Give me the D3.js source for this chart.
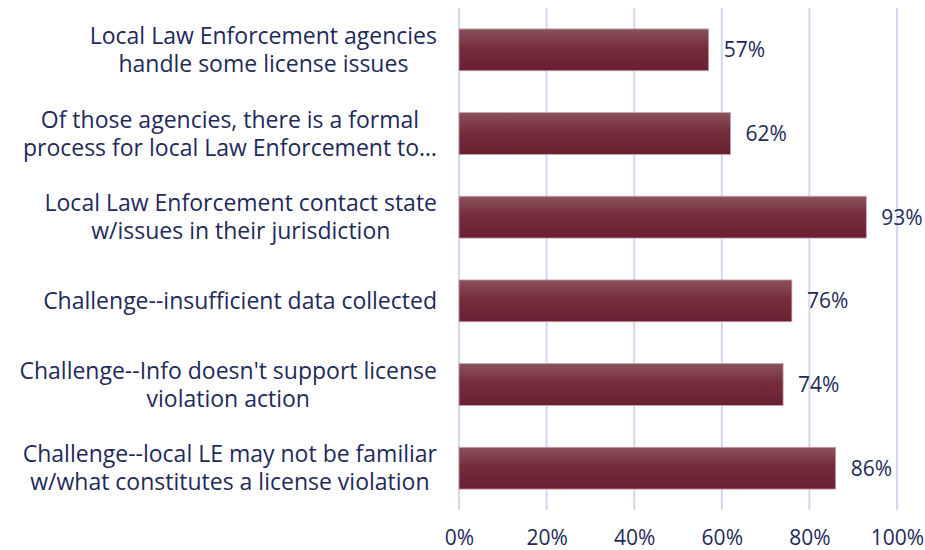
<!DOCTYPE html>
<html>
<head>
<meta charset="utf-8">
<script src="https://cdnjs.cloudflare.com/ajax/libs/d3/7.8.5/d3.min.js"></script>
<style>
  body { margin: 0; background: #fff; }
  svg text { font-family: "Open Sans", sans-serif; fill: #1f2a5a; }
</style>
</head>
<body>
<svg width="925" height="550"></svg>
<script>
var categories = [
  ["Local Law Enforcement agencies", "handle some license issues"],
  ["Of those agencies, there is a formal", "process for local Law Enforcement to\u2026"],
  ["Local Law Enforcement contact state", "w/issues in their jurisdiction"],
  ["Challenge--insufficient data collected"],
  ["Challenge--Info doesn't support license", "violation action"],
  ["Challenge--local LE may not be familiar", "w/what constitutes a license violation"]
];
var values = [57, 62, 93, 76, 74, 86];
var ticks = [0, 20, 40, 60, 80, 100];

var svg = d3.select("svg"),
    margin = {top: 8, right: 28, bottom: 40, left: 459},
    width = +svg.attr("width") - margin.left - margin.right,
    height = +svg.attr("height") - margin.top - margin.bottom;

var g = svg.append("g")
    .attr("transform", "translate(" + margin.left + "," + margin.top + ")");

var xScale = d3.scaleLinear().domain([0, 100]).range([0, width]);
var yScale = d3.scaleBand()
    .domain(d3.range(categories.length))
    .range([0, height])
    .paddingInner(0.5)
    .paddingOuter(0.25);

// bar gradient
var grad = svg.append("defs").append("linearGradient")
    .attr("id", "barGrad")
    .attr("x1", 0).attr("y1", 0).attr("x2", 0).attr("y2", 1);
grad.append("stop").attr("offset", "0%").attr("stop-color", "#8b535d");
grad.append("stop").attr("offset", "45%").attr("stop-color", "#772c3b");
grad.append("stop").attr("offset", "100%").attr("stop-color", "#682132");

// gridlines
g.selectAll(".grid")
    .data(ticks)
    .enter().append("line")
    .attr("class", "grid")
    .attr("x1", function(d) { return xScale(d); })
    .attr("x2", function(d) { return xScale(d); })
    .attr("y1", 0)
    .attr("y2", height)
    .attr("stroke", "#d3d7ef")
    .attr("stroke-width", 2);

// x axis labels
g.append("g")
    .attr("transform", "translate(0," + height + ")")
    .call(d3.axisBottom(xScale).tickValues(ticks).tickSize(0).tickPadding(20)
      .tickFormat(function(d) { return d + "%"; }))
    .call(function(ax) {
      ax.select(".domain").remove();
      ax.selectAll("text").style("font-size", "21px").attr("fill", "#1f2a5a");
    });

// bars
g.selectAll(".bar")
    .data(values)
    .enter().append("rect")
    .attr("class", "bar")
    .attr("x", 0)
    .attr("y", function(d, i) { return yScale(i); })
    .attr("width", function(d) { return xScale(d); })
    .attr("height", yScale.bandwidth())
    .attr("fill", "url(#barGrad)")
    .attr("stroke", "#c9a3aa")
    .attr("stroke-width", 0.8);

// value labels
g.selectAll(".val")
    .data(values)
    .enter().append("text")
    .attr("class", "val")
    .attr("x", function(d) { return xScale(d) + 15; })
    .attr("y", function(d, i) { return yScale(i) + yScale.bandwidth() / 2; })
    .attr("dy", "0.35em")
    .style("font-size", "21px")
    .text(function(d) { return d + "%"; });

// category labels: block right aligned, lines centred
var lineH = 28;
var right = -22;
categories.forEach(function(lines, i) {
  var cy = yScale(i) + yScale.bandwidth() / 2;
  var t = g.append("text")
      .style("font-size", "23px")
      .attr("text-anchor", "middle");
  lines.forEach(function(s, k) {
    t.append("tspan")
      .attr("y", cy + (k - (lines.length - 1) / 2) * lineH)
      .attr("dy", "0.35em")
      .text(s);
  });
  var w = d3.max(t.selectAll("tspan").nodes(), function(n) { return n.getComputedTextLength(); });
  t.selectAll("tspan").attr("x", right - w / 2);
});
</script>
</body>
</html>
